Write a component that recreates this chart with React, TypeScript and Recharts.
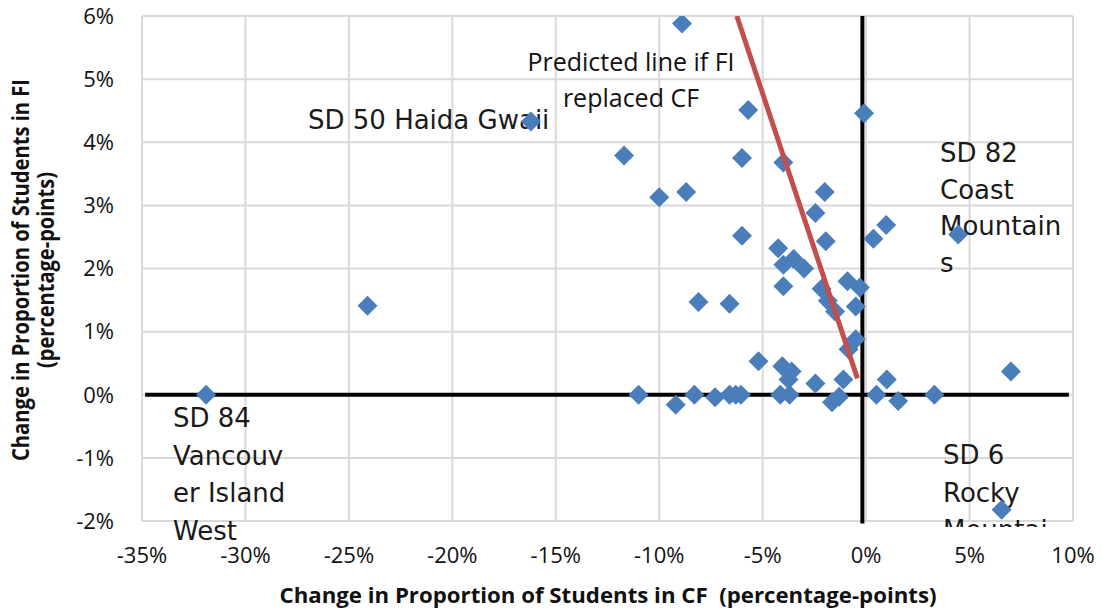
import { ScatterChart, Scatter, XAxis, YAxis, CartesianGrid, ReferenceLine, Customized } from 'recharts';

// change in share of students in Core French (x) and French Immersion (y), percentage-points
const cfChange = [
  -31.9, -24.1, -16.2, -11.7, -10.0, -8.7, -8.9, -5.7, -6.0, -4.0, -0.1, -6.0, -2.0, -2.45,
  -1.95, 0.35, 0.97, 4.45, -4.25, -4.0, -3.5, -3.0, -4.0, -2.15, -0.9, -0.3, -1.85, -1.5,
  -0.5, -8.1, -6.6, -0.5, -0.85, -5.2, -4.05, -3.6, -3.75, -2.45, -1.1, -11.0, -9.2, -8.3,
  -7.3, -6.6, -6.3, -6.05, -4.15, -3.7, -1.65, -1.3, 0.5, 1.0, 1.55, 3.3, 7.0, 6.55,
];
const fiChange = [
  0, 1.41, 4.33, 3.79, 3.13, 3.21, 5.88, 4.51, 3.75, 3.68, 4.46, 2.52, 3.21, 2.88,
  2.43, 2.47, 2.69, 2.54, 2.32, 2.06, 2.15, 2.0, 1.72, 1.68, 1.8, 1.7, 1.49, 1.32,
  1.4, 1.47, 1.44, 0.88, 0.72, 0.53, 0.45, 0.37, 0.24, 0.18, 0.24, 0, -0.16, 0,
  -0.04, 0, 0, 0, 0, 0, -0.12, -0.03, 0, 0.24, -0.1, 0, 0.37, -1.82,
];

// predicted line if FI replaced CF
const predictedCf = [-6.25, -0.42];
const predictedFi = [6.0, 0.26];

const xTicks = [-35, -30, -25, -20, -15, -10, -5, 0, 5, 10];
const yTicks = [-2, -1, 0, 1, 2, 3, 4, 5, 6];

const points = cfChange.map((x, i) => ({ x, y: fiChange[i] }));
const predicted = predictedCf.map((x, i) => ({ x, y: predictedFi[i] }));

const Diamond = (props: any) => {
  const { cx, cy } = props;
  const r = 10;
  return <path d={`M${cx},${cy - r}L${cx + r},${cy}L${cx},${cy + r}L${cx - r},${cy}Z`} fill="#4A7EBB" />;
};

const labelFont = { fontFamily: 'DejaVu Sans', fontSize: 26, fill: '#1a1a1a' };
const calibriLike = { fontFamily: 'Open Sans', fill: '#111' };

const Annotations = () => (
  <g>
    <defs>
      <clipPath id="sd6clip">
        <rect x={900} y={0} width={146} height={527} />
      </clipPath>
    </defs>
    <text x={308} y={129} {...labelFont}>SD 50 Haida Gwaii</text>
    <text x={173} y={427} {...labelFont}>SD 84</text>
    <text x={173} y={465} {...labelFont}>Vancouv</text>
    <text x={173} y={502} {...labelFont}>er Island</text>
    <text x={173} y={540} {...labelFont}>West</text>
    <text x={940} y={162} {...labelFont}>SD 82</text>
    <text x={940} y={199} {...labelFont}>Coast</text>
    <text x={940} y={235} {...labelFont}>Mountain</text>
    <text x={940} y={272} {...labelFont}>s</text>
    <g clipPath="url(#sd6clip)">
      <text x={943} y={464} {...labelFont}>SD 6</text>
      <text x={943} y={502} {...labelFont}>Rocky</text>
      <text x={943} y={539} {...labelFont}>Mountain</text>
    </g>
    <text x={631} y={71} textAnchor="middle" fontSize={25} {...calibriLike}>Predicted line if FI</text>
    <text x={631} y={107} textAnchor="middle" fontSize={25} {...calibriLike}>replaced CF</text>
    <text
      x={608} y={603} textAnchor="middle" fontSize={22} fontWeight={700} {...calibriLike}
      textLength={657} lengthAdjust="spacingAndGlyphs" style={{ whiteSpace: 'pre' }}
    >
      Change in Proportion of Students in CF  (percentage-points)
    </text>
    <g transform="rotate(-90)">
      <text x={-270} y={29} textAnchor="middle" fontSize={23} fontWeight={700} {...calibriLike}
        textLength={382} lengthAdjust="spacingAndGlyphs">
        Change in Proportion of Students in FI
      </text>
      <text x={-270} y={54} textAnchor="middle" fontSize={23} fontWeight={700} {...calibriLike}
        textLength={196} lengthAdjust="spacingAndGlyphs">
        (percentage-points)
      </text>
    </g>
  </g>
);

const tickStyle = { fontFamily: 'Open Sans', fontSize: 22, fill: '#111' };

export default function App() {
  return (
    <div style={{ position: 'absolute', left: 0, top: 0, background: '#fff' }}>
      <ScatterChart width={1102} height={612} margin={{ top: 16, right: 29, bottom: 0, left: 0 }}>
        <CartesianGrid stroke="#D9D9D9" strokeWidth={2} />
        <XAxis
          type="number" dataKey="x" domain={[-35, 10]} ticks={xTicks} height={91}
          tickFormatter={(v: number) => `${v}%`} tick={tickStyle}
          tickLine={false} axisLine={false} tickSize={0} tickMargin={26} allowDataOverflow
        />
        <YAxis
          type="number" dataKey="y" domain={[-2, 6]} ticks={yTicks} width={142}
          tickFormatter={(v: number) => `${v}%`} tick={tickStyle}
          tickLine={false} axisLine={false} tickSize={0} tickMargin={28} allowDataOverflow
        />
        <Scatter data={points} shape={Diamond} isAnimationActive={false} />
        <ReferenceLine
          segment={[{ x: -34.85, y: 0 }, { x: 9.8, y: 0 }]}
          stroke="#000" strokeWidth={4}
        />
        <ReferenceLine
          segment={[{ x: -0.18, y: 6 }, { x: -0.18, y: -2.04 }]}
          ifOverflow="visible" stroke="#000" strokeWidth={4}
        />
        <Scatter
          data={predicted} line={{ stroke: '#C0504D', strokeWidth: 5 }}
          shape={() => <g />} isAnimationActive={false}
        />
        <Customized component={Annotations} />
      </ScatterChart>
    </div>
  );
}
